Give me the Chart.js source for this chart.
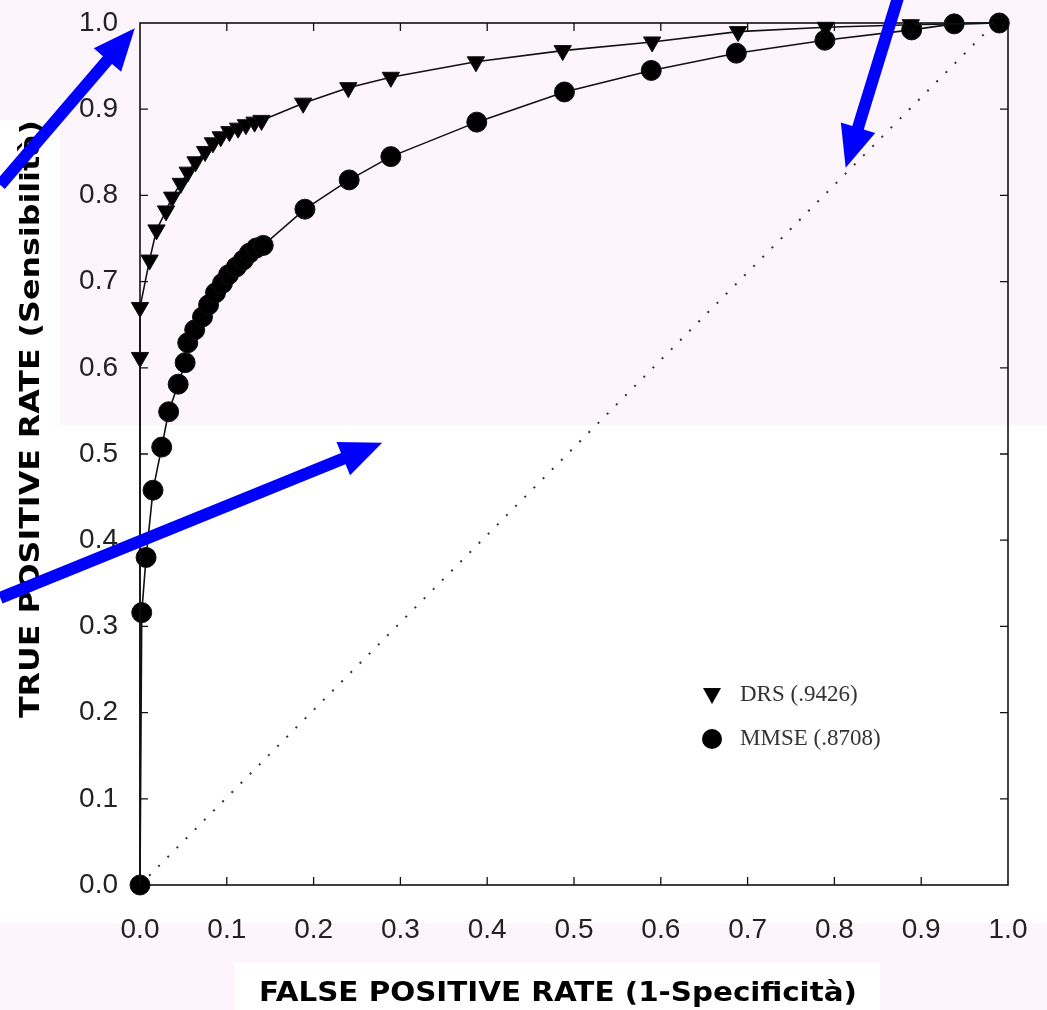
<!DOCTYPE html>
<html>
<head>
<meta charset="utf-8">
<script src="https://cdn.jsdelivr.net/npm/chart.js@4.4.1/dist/chart.umd.min.js"></script>
<style>
  html, body { margin: 0; padding: 0; background: #fcf5fc; }
  #wrap { width: 1047px; height: 1010px; position: relative; }
</style>
</head>
<body>
<div id="wrap"><canvas id="roc"></canvas></div>
<script>
// axis ticks
const tickValues = [0, 0.1, 0.2, 0.3, 0.4, 0.5, 0.6, 0.7, 0.8, 0.9, 1.0];
const tickLabels = ['0.0', '0.1', '0.2', '0.3', '0.4', '0.5', '0.6', '0.7', '0.8', '0.9', '1.0'];

// DRS curve (false positive rate / true positive rate)
const drsFpr = [0, 0, 0, 0.011, 0.019, 0.03, 0.037, 0.047, 0.055, 0.064, 0.075, 0.084, 0.093,
  0.103, 0.113, 0.122, 0.132, 0.14, 0.188, 0.24, 0.289, 0.387, 0.487, 0.59, 0.689, 0.79, 0.888, 0.99];
const drsTpr = [0, 0.612, 0.67, 0.725, 0.76, 0.782, 0.798, 0.814, 0.827, 0.839, 0.851, 0.861, 0.868,
  0.874, 0.878, 0.882, 0.885, 0.887, 0.907, 0.925, 0.937, 0.955, 0.968, 0.978, 0.99, 0.995, 0.998, 1.0];

// MMSE curve
const mmseFpr = [0, 0.002, 0.007, 0.015, 0.025, 0.033, 0.044, 0.052, 0.055, 0.063, 0.072, 0.079, 0.087,
  0.095, 0.102, 0.111, 0.119, 0.126, 0.134, 0.142, 0.19, 0.241, 0.289, 0.388, 0.489, 0.589, 0.687,
  0.789, 0.889, 0.938, 0.99];
const mmseTpr = [0, 0.316, 0.38, 0.458, 0.508, 0.549, 0.581, 0.606, 0.629, 0.644, 0.659, 0.673, 0.687,
  0.698, 0.708, 0.717, 0.725, 0.733, 0.739, 0.742, 0.784, 0.818, 0.845, 0.885, 0.92, 0.945, 0.965,
  0.98, 0.992, 0.999, 1.0];

// chance diagonal
const chanceFpr = [0, 0.985];
const chanceTpr = [0, 1.0];

const seriesLabels = ['DRS (.9426)', 'MMSE (.8708)'];
const xTitle = 'FALSE POSITIVE RATE (1-Specificità)';
const yTitle = 'TRUE POSITIVE RATE (Sensibilità)';

// blue arrows, given in chart values
const arrowFromX = [-0.161, -0.161, 0.875];
const arrowFromY = [0.812, 0.333, 1.035];
const arrowToX = [-0.006, 0.279, 0.813];
const arrowToY = [0.994, 0.513, 0.832];

const pts = (xs, ys) => xs.map((x, i) => ({ x: x, y: ys[i] }));

const decor = {
  id: 'decor',
  beforeDraw(chart) {
    const ctx = chart.ctx;
    ctx.save();
    ctx.fillStyle = '#fcf5fc';
    ctx.fillRect(0, 0, chart.width, chart.height);
    ctx.fillStyle = '#ffffff';
    ctx.fillRect(0, 425, chart.width, 498);
    ctx.fillRect(0, 120, 60, 600);
    ctx.fillRect(235, 963, 645, 47);
    ctx.restore();
  },
  beforeDatasetsDraw(chart) {
    const ctx = chart.ctx;
    const a = chart.chartArea;
    const xs = chart.scales.x, ys = chart.scales.y;
    ctx.save();
    ctx.strokeStyle = '#111';
    ctx.lineWidth = 1.6;
    ctx.strokeRect(a.left, a.top, a.right - a.left, a.bottom - a.top);
    ctx.lineWidth = 1.3;
    ctx.beginPath();
    tickValues.slice(1, -1).forEach(v => {
      const px = xs.getPixelForValue(v);
      ctx.moveTo(px, a.bottom); ctx.lineTo(px, a.bottom - 8);
      ctx.moveTo(px, a.top); ctx.lineTo(px, a.top + 8);
      const py = ys.getPixelForValue(v);
      ctx.moveTo(a.left, py); ctx.lineTo(a.left + 8, py);
      ctx.moveTo(a.right, py); ctx.lineTo(a.right - 8, py);
    });
    ctx.stroke();
    ctx.restore();
  },
  afterDraw(chart) {
    const ctx = chart.ctx;
    const a = chart.chartArea;
    const xs = chart.scales.x, ys = chart.scales.y;
    ctx.save();

    // legend
    const lx = a.left + 572, ly = a.top + 672;
    ctx.fillStyle = '#000';
    ctx.beginPath();
    ctx.moveTo(lx - 9, ly - 7); ctx.lineTo(lx + 9, ly - 7); ctx.lineTo(lx, ly + 9);
    ctx.closePath(); ctx.fill();
    ctx.beginPath();
    ctx.arc(lx, ly + 44, 10, 0, Math.PI * 2);
    ctx.fill();
    ctx.fillStyle = '#333';
    ctx.font = '23px "Liberation Serif"';
    ctx.textBaseline = 'middle';
    ctx.fillText(seriesLabels[0], lx + 28, ly);
    ctx.fillText(seriesLabels[1], lx + 28, ly + 44);

    // axis titles
    ctx.fillStyle = '#000';
    ctx.font = 'bold 27px "DejaVu Sans"';
    ctx.textAlign = 'center';
    let w = ctx.measureText(xTitle).width;
    ctx.save();
    ctx.translate(558, 994);
    ctx.scale(598 / w, 1);
    ctx.fillText(xTitle, 0, 0);
    ctx.restore();
    w = ctx.measureText(yTitle).width;
    ctx.save();
    ctx.translate(32, 419);
    ctx.rotate(-Math.PI / 2);
    ctx.scale(598 / w, 1);
    ctx.fillText(yTitle, 0, 0);
    ctx.restore();

    // arrows
    ctx.fillStyle = '#0000ff';
    arrowFromX.forEach((fx, i) => {
      const x0 = xs.getPixelForValue(fx), y0 = ys.getPixelForValue(arrowFromY[i]);
      const x1 = xs.getPixelForValue(arrowToX[i]), y1 = ys.getPixelForValue(arrowToY[i]);
      const len = Math.hypot(x1 - x0, y1 - y0);
      const ang = Math.atan2(y1 - y0, x1 - x0);
      const head = 42, hw = 18, sw = 6;
      ctx.save();
      ctx.translate(x0, y0);
      ctx.rotate(ang);
      ctx.beginPath();
      ctx.moveTo(0, -sw);
      ctx.lineTo(len - head, -sw);
      ctx.lineTo(len - head, -hw);
      ctx.lineTo(len, 0);
      ctx.lineTo(len - head, hw);
      ctx.lineTo(len - head, sw);
      ctx.lineTo(0, sw);
      ctx.closePath();
      ctx.fill();
      ctx.restore();
    });
    ctx.restore();
  }
};

const tickFont = { family: '"Liberation Sans", Arial, sans-serif', size: 28 };

new Chart(document.getElementById('roc'), {
  type: 'scatter',
  data: {
    datasets: [
      {
        label: seriesLabels[0],
        data: pts(drsFpr, drsTpr),
        showLine: true,
        borderColor: '#111',
        borderWidth: 1.6,
        backgroundColor: '#000',
        pointStyle: 'triangle',
        pointRotation: 180,
        pointRadius: ctx => (ctx.dataIndex === 0 ? 0 : 10),
        pointBorderWidth: 1,
        clip: false
      },
      {
        label: seriesLabels[1],
        data: pts(mmseFpr, mmseTpr),
        showLine: true,
        borderColor: '#111',
        borderWidth: 1.6,
        backgroundColor: '#000',
        pointStyle: 'circle',
        pointRadius: 10,
        pointBorderWidth: 1,
        clip: false
      },
      {
        label: 'chance',
        data: pts(chanceFpr, chanceTpr),
        showLine: true,
        borderColor: '#333',
        borderWidth: 2,
        borderDash: [2, 11],
        pointRadius: 0
      }
    ]
  },
  options: {
    responsive: true,
    maintainAspectRatio: false,
    animation: false,
    layout: { padding: { top: 23, right: 39, left: 0, bottom: 0 } },
    plugins: { legend: { display: false }, tooltip: { enabled: false } },
    scales: {
      x: {
        type: 'linear',
        min: 0,
        max: 1,
        afterBuildTicks: s => { s.ticks = tickValues.map(v => ({ value: v })); },
        afterFit: s => { s.height = 125; s.paddingLeft = 0; s.paddingRight = 0; },
        ticks: {
          callback: (v, i) => tickLabels[i],
          font: tickFont,
          color: '#222',
          padding: 28,
          maxRotation: 0,
          autoSkip: false
        },
        grid: { display: false, drawTicks: false },
        border: { display: false }
      },
      y: {
        type: 'linear',
        min: 0,
        max: 1,
        afterBuildTicks: s => { s.ticks = tickValues.map(v => ({ value: v })); },
        afterFit: s => { s.width = 140; s.paddingTop = 0; s.paddingBottom = 0; },
        ticks: {
          callback: (v, i) => tickLabels[i],
          font: tickFont,
          color: '#222',
          padding: 22,
          autoSkip: false
        },
        grid: { display: false, drawTicks: false },
        border: { display: false }
      }
    }
  },
  plugins: [decor]
});
</script>
</body>
</html>
